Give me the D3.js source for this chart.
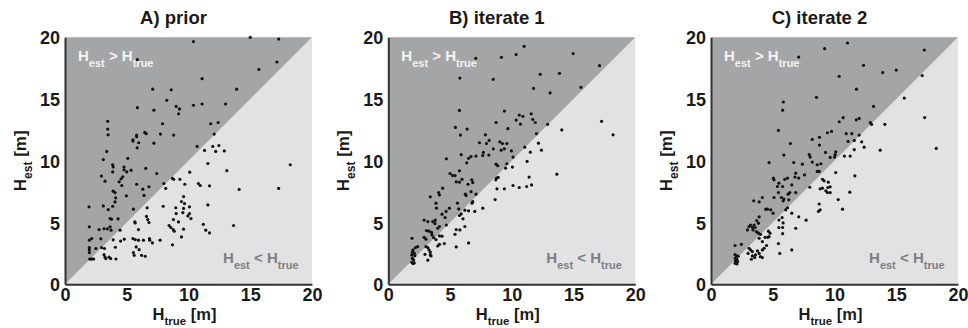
<!DOCTYPE html>
<html>
<head>
<meta charset="utf-8">
<script src="https://cdn.jsdelivr.net/npm/d3@7"></script>
<style>
  body { margin: 0; background: #fff; }
  svg { display: block; font-family: "Liberation Sans", Arial, sans-serif; font-weight: bold; }
</style>
</head>
<body>
<svg id="chart" width="968" height="328"></svg>
<script>
// panel titles and axis ticks
const titles = ["A) prior", "B) iterate 1", "C) iterate 2"];
const ticks = [0, 5, 10, 15, 20];

// [H_true, H_est] pairs
const priorPts = [
  [10.4,19.65],[15.0,20.0],[17.3,19.86],[5.86,18.2],[17.16,18.0],[15.7,17.4],[11.1,16.65],[7.1,15.8],[8.6,15.75],[13.9,15.8],
  [8.24,14.9],[5.86,14.3],[7.2,14.1],[9.0,14.4],[9.27,14.2],[9.2,13.8],[10.4,14.5],[11.1,14.6],[13.0,14.6],[3.46,13.2],
  [3.46,12.57],[3.49,12.1],[7.9,13.0],[11.8,13.0],[12.4,13.1],[6.46,12.3],[6.57,12.2],[7.73,12.16],[8.8,12.08],[12.08,12.16],
  [5.8,12.08],[5.8,11.95],[5.5,11.7],[5.5,11.6],[5.97,11.46],[7.2,11.43],[5.84,11.05],[3.38,10.76],[5.08,10.2],[3.1,10.1],
  [10.7,11.16],[11.3,10.84],[11.97,11.16],[12.46,11.24],[12.2,10.76],[12.9,10.8],
  [3.86,9.68],[3.9,9.5],[4.78,9.5],[3.86,9.1],[4.78,9.27],[5.0,9.1],[5.35,9.24],[6.54,9.38],[7.43,8.97],[2.95,8.76],
  [4.54,8.54],[3.24,8.35],[4.38,8.3],[4.68,8.7],[4.6,8.0],[5.8,8.1],[6.8,7.9],[6.3,7.7],[3.9,7.54],[4.05,7.43],
  [4.1,7.0],[4.97,7.16],[6.4,7.2],[4.05,6.67],[3.86,6.32],[1.95,6.27],[3.5,6.05],[5.54,6.08],[3.65,5.32],[3.76,5.27],
  [4.3,5.3],[1.97,4.65],[3.16,4.5],[3.43,4.49],[3.65,4.65],[3.73,4.38],[2.76,4.43],[1.97,3.57],[2.16,3.7],[1.97,2.97],
  [1.97,2.8],[1.97,2.57],[2.0,2.05],[2.1,2.05],[2.2,2.05],[2.32,2.05],[2.5,2.9],[2.97,2.97],[3.2,2.9],[3.16,2.4],
  [3.24,2.2],[3.3,2.08],[3.57,2.2],[3.7,2.08],[4.08,3.0],[3.9,3.6],[4.13,2.05],[4.46,4.38],[2.9,3.68],[3.1,6.35],
  [11.57,9.78],[13.1,9.2],[10.1,9.08],[8.7,8.57],[8.8,8.5],[9.3,8.5],[8.0,8.16],[9.7,8.1],[10.8,8.16],[10.95,8.0],
  [11.7,7.97],[8.16,7.76],[14.1,7.68],[17.3,7.76],[18.24,9.68],[9.6,7.1],[9.43,6.7],[9.68,6.54],[11.57,6.43],[7.95,6.32],
  [8.97,6.2],[6.65,6.19],[9.6,6.14],[10.08,6.27],[9.54,5.8],[10.08,5.73],[9.95,5.54],[10.2,5.32],[9.0,5.73],[6.6,5.5],
  [6.7,5.24],[6.8,5.0],[5.65,5.05],[5.68,4.97],[8.78,5.24],[9.19,5.05],[8.43,4.76],[8.57,4.6],[8.76,4.43],[8.84,4.3],
  [9.6,4.46],[11.2,4.86],[11.4,4.38],[11.7,4.16],[13.65,4.76],[5.95,4.43],[4.8,3.65],[5.5,3.7],[5.68,3.62],[5.95,3.57],
  [6.35,3.57],[6.84,3.7],[6.86,3.57],[7.08,3.35],[7.7,3.57],[9.43,3.84],[8.7,3.2],[5.76,3.03],[6.0,2.8],[5.54,2.57],
  [5.6,2.35],[6.2,2.35],[6.5,2.27],[4.5,3.5]
];

const iter1Pts = [
  [11.0,19.27],[9.16,18.38],[10.35,18.6],[14.97,18.68],[7.08,18.3],[17.1,17.7],[5.8,16.7],[8.5,16.6],[12.3,17.0],[13.86,17.08],
  [11.76,15.86],[15.6,15.95],[13.1,15.5],[5.76,14.08],[9.4,14.03],[11.57,13.8],[10.6,13.7],[10.9,13.6],[10.35,13.3],[10.7,12.97],
  [11.7,13.35],[11.9,13.1],[8.73,13.1],[5.43,12.7],[6.38,12.57],[5.84,12.08],[12.9,12.95],[9.68,12.6],[14.05,12.5],[12.0,12.2],
  [7.86,12.1],[8.16,11.65],[7.38,11.46],[7.95,11.4],[9.03,11.54],[9.24,11.4],[9.6,11.4],[8.5,10.97],[7.7,10.68],[8.14,10.46],
  [9.14,10.86],[9.4,10.97],[9.97,10.8],[10.1,10.3],[11.05,11.1],[12.16,11.43],[11.5,10.7],[12.4,10.86],[17.27,13.2],[18.2,12.1],
  [4.7,10.16],[5.9,10.5],[6.5,10.2],[6.7,10.35],[7.1,10.38],[7.65,10.43],
  [6.35,9.84],[8.73,9.73],[8.86,9.6],[9.6,9.76],[9.5,9.4],[10.05,9.49],[11.24,9.95],[13.65,8.92],[11.4,8.68],[5.0,8.97],
  [5.2,8.8],[5.4,8.8],[5.76,9.19],[5.5,8.3],[5.76,8.27],[5.97,8.5],[6.46,8.1],[6.76,8.46],[6.84,8.24],[8.76,8.6],
  [8.9,8.65],[8.7,8.46],[8.8,7.73],[9.4,7.73],[10.1,8.0],[10.6,7.84],[11.2,7.92],[11.6,8.05],[8.65,6.86],[7.65,6.16],
  [7.1,7.3],[6.84,6.7],[6.78,6.57],[6.24,7.3],[6.3,7.2],[6.7,7.5],[4.4,7.78],[4.08,7.43],[4.14,7.24],[3.4,7.08],
  [3.86,6.57],[3.9,6.16],[4.68,5.9],[4.95,6.16],[5.6,6.57],[5.7,6.1],[6.2,6.0],[6.5,5.95],[7.0,5.9],[5.9,5.7],
  [6.05,5.3],[5.76,5.57],[4.35,5.68],[2.9,5.2],[3.2,5.08],[3.6,5.08],[3.8,5.19],[4.6,5.4],[4.7,4.8],[4.0,4.54],
  [4.14,4.68],[3.78,4.92],[3.1,4.35],[3.3,4.3],[3.5,4.2],[3.54,4.0],[2.9,3.8],[3.05,3.65],[3.67,3.78],[3.86,3.62],
  [4.14,3.92],[4.35,3.9],[4.54,3.3],[4.0,3.1],[4.14,3.24],[5.4,4.05],[5.5,4.43],[5.8,4.4],[6.2,4.68],[5.5,3.03],
  [6.5,3.35],[1.92,3.73],[2.38,3.05],[2.2,2.97],[3.05,3.05],[3.2,2.97],[3.3,2.78],[3.4,2.6],[2.97,2.43],[3.4,2.38],
  [3.46,2.3],[3.2,1.95],[2.0,2.78],[1.95,2.6],[2.1,2.52],[1.9,2.38],[2.15,2.32],[1.95,2.1],[2.05,1.97],[1.9,1.78],
  [2.1,1.73],[2.0,1.68]
];

const iter2Pts = [
  [11.05,19.54],[9.2,19.08],[7.1,18.4],[17.27,18.97],[12.35,17.73],[13.9,17.14],[15.0,17.35],[10.38,16.84],[17.1,16.9],[11.78,15.8],
  [15.65,15.08],[8.54,15.14],[5.86,14.76],[5.8,14.1],[13.16,14.4],[10.7,13.49],[10.38,13.16],[11.76,13.32],[12.0,13.43],[12.9,13.1],
  [13.0,12.95],[14.08,12.95],[17.3,13.5],[5.46,12.46],[9.43,12.27],[9.76,12.38],[10.95,12.2],[11.4,12.2],[12.0,12.08],[11.1,11.57],
  [11.6,11.65],[12.2,11.54],[12.4,11.1],[11.6,10.9],[13.7,10.86],[18.24,11.0],[6.43,11.4],[8.2,11.73],[8.78,11.9],[8.78,11.27],
  [9.27,10.68],[10.1,10.73],[10.05,10.5],[10.8,10.38],[11.27,10.38],[7.95,10.5],[8.03,10.3],[5.9,10.46],[9.65,10.27],[10.0,10.3],
  [4.7,9.86],[6.7,9.86],[7.4,9.73],[8.2,9.9],[8.6,9.68],[8.9,9.76],[8.76,9.14],[8.6,9.14],[7.57,8.86],[6.86,9.0],
  [6.8,8.68],[7.1,8.6],[6.2,8.6],[5.97,8.5],[5.05,8.6],[5.1,8.46],[5.5,8.19],[5.8,7.92],[5.38,7.92],[6.54,8.05],
  [3.46,6.76],[3.9,6.68],[4.16,7.03],[5.46,7.43],[6.24,7.3],[6.38,7.43],[6.86,7.43],[5.1,7.03],[5.7,7.03],[5.9,6.9],
  [5.84,6.76],[6.3,6.84],[4.43,6.08],[4.57,6.08],[4.84,6.03],[5.03,5.76],[6.2,6.2],[6.05,6.03],[5.76,5.4],[5.5,5.2],
  [6.54,5.76],[7.1,5.46],[7.7,5.19],[6.86,4.54],[5.84,4.97],[5.8,4.6],[5.8,4.1],[5.5,4.6],[5.46,3.3],[5.57,2.5],
  [6.54,2.78],[4.65,4.3],[4.78,4.14],[4.7,3.86],[4.6,3.8],[3.9,5.46],[3.7,5.16],[3.49,4.8],[3.84,4.95],[3.2,4.8],
  [3.08,4.68],[3.35,4.62],[2.95,4.4],[3.4,4.4],[3.57,4.6],[3.68,4.27],[3.84,4.14],[3.9,3.73],[4.0,4.05],[4.16,3.46],
  [4.38,3.8],[4.5,3.14],[4.3,2.92],[4.16,2.78],[3.08,2.92],[3.2,2.78],[3.35,2.65],[3.0,2.5],[3.35,2.3],[3.6,2.38],
  [4.0,2.24],[3.9,2.5],[3.76,2.7],[3.27,2.03],[3.54,2.16],[4.16,2.16],[1.95,3.14],[2.46,3.24],[1.95,2.4],[2.05,2.3],
  [2.2,2.27],[1.97,2.1],[2.1,2.03],[1.98,1.89],[2.16,1.84],[1.95,1.7],[2.1,1.65],[10.1,9.05],[11.65,8.78],[9.03,8.5],
  [9.16,8.38],[9.5,8.27],[9.03,7.78],[8.84,7.73],[9.46,7.84],[9.65,7.89],[9.3,7.57],[9.43,7.43],[9.65,7.43],[8.0,7.86],
  [10.3,6.86],[11.24,7.46],[10.65,6.08],[8.76,6.5],[8.84,6.03],[8.7,5.9]
];

const panelData = [priorPts, iter1Pts, iter2Pts];

const size = 247;
const plotTop = 37.3;
const lefts = [65, 388.3, 711];

const svg = d3.select('#chart');

panelData.forEach((pts, i) => {
    const x = d3.scaleLinear().domain([0, 20]).range([lefts[i], lefts[i] + size]);
    const y = d3.scaleLinear().domain([0, 20]).range([plotTop + size, plotTop]);
    const cx = (x(0) + x(20)) / 2;
    const g = svg.append('g');

    // shaded halves either side of the 1:1 line
    const poly = d3.line().x(d => x(d[0])).y(d => y(d[1]));
    g.append('path').attr('d', poly([[0, 0], [20, 0], [20, 20]]) + 'Z').attr('fill', '#e1e2e4');
    g.append('path').attr('d', poly([[0, 0], [20, 20], [0, 20]]) + 'Z').attr('fill', '#a3a5a7');

    // region labels
    const up = g.append('text').attr('x', x(0) + 13).attr('y', y(20) + 23.5)
        .attr('fill', '#f4f4f4').attr('font-size', 15);
    up.append('tspan').text('H');
    up.append('tspan').attr('font-size', 11).attr('dy', 6).text('est');
    up.append('tspan').attr('dy', -6).text(' > H');
    up.append('tspan').attr('font-size', 11).attr('dy', 6).text('true');

    const lo = g.append('text').attr('x', x(20) - 13.5).attr('y', y(0) - 21)
        .attr('text-anchor', 'end').attr('fill', '#7e7f81').attr('font-size', 15);
    lo.append('tspan').text('H');
    lo.append('tspan').attr('font-size', 11).attr('dy', 6).text('est');
    lo.append('tspan').attr('dy', -6).text(' < H');
    lo.append('tspan').attr('font-size', 11).attr('dy', 6).text('true');

    // points
    g.append('g').attr('fill', '#121212')
        .selectAll('circle')
        .data(pts)
        .join('circle')
        .attr('cx', d => x(d[0]))
        .attr('cy', d => y(d[1]))
        .attr('r', 1.6);

    // axes
    const xAxis = g.append('g')
        .attr('transform', `translate(0,${y(0)})`)
        .call(d3.axisBottom(x).tickValues(ticks).tickSize(0).tickSizeOuter(0).tickPadding(4));
    const yAxis = g.append('g')
        .attr('transform', `translate(${x(0)},0)`)
        .call(d3.axisLeft(y).tickValues(ticks).tickSize(0).tickSizeOuter(0).tickPadding(5));
    [xAxis, yAxis].forEach(a => {
        a.attr('font-family', null).attr('font-size', 18);
        a.select('.domain').attr('stroke', '#333').attr('stroke-width', 2);
        a.selectAll('text').attr('fill', '#1a1a1a');
    });
    yAxis.selectAll('text').attr('dy', '0.36em');

    // axis titles
    const xl = g.append('text').attr('x', cx - 4).attr('y', 320)
        .attr('text-anchor', 'middle').attr('font-size', 16.5).attr('fill', '#1a1a1a');
    xl.append('tspan').text('H');
    xl.append('tspan').attr('font-size', 11.5).attr('dy', 4.5).text('true');
    xl.append('tspan').attr('dy', -4.5).text(' [m]');

    const yl = g.append('text')
        .attr('transform', `translate(${x(0) - 39},${(y(0) + y(20)) / 2}) rotate(-90)`)
        .attr('text-anchor', 'middle').attr('font-size', 17).attr('fill', '#1a1a1a');
    yl.append('tspan').text('H');
    yl.append('tspan').attr('font-size', 12).attr('dy', 6).text('est');
    yl.append('tspan').attr('dy', -6).text(' [m]');

    // panel title
    g.append('text').attr('x', cx - 15).attr('y', 24)
        .attr('text-anchor', 'middle').attr('font-size', 18.5).attr('fill', '#1a1a1a')
        .text(titles[i]);
});
</script>
</body>
</html>
